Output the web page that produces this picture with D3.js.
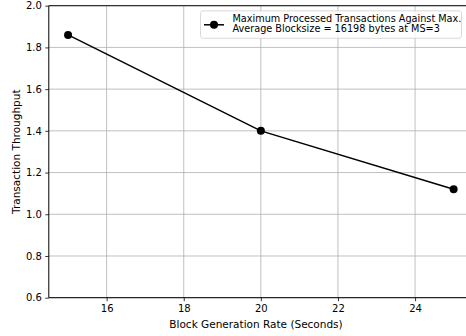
<!DOCTYPE html>
<html>
<head>
<meta charset="utf-8">
<script src="https://cdn.jsdelivr.net/npm/d3@7"></script>
<style>
  html, body { margin: 0; padding: 0; background: #fff; }
  svg { display: block; font-family: "DejaVu Sans", sans-serif; }
</style>
</head>
<body>
<svg id="chart" width="466" height="336"></svg>
<script>
// Block generation rate (seconds) vs. transaction throughput
const blockRates = [15, 20, 25];
const throughput = [1.86, 1.40, 1.12];
const xTicks = [16, 18, 20, 22, 24];
const yTicks = [0.6, 0.8, 1.0, 1.2, 1.4, 1.6, 1.8, 2.0];
const legendLines = ["Maximum Processed Transactions Against Max.", "Average Blocksize = 16198 bytes at MS=3"];

(function () {
const svg = d3.select("#chart");
const plotL = 48.8, plotT = 5.7, plotB = 297.7, plotR = 472.9;

const x = d3.scaleLinear().domain([14.5, 25.5]).range([plotL, plotR]);
const y = d3.scaleLinear().domain([0.6, 2.0]).range([plotB, plotT]);

// grid
const grid = svg.append("g");
grid.selectAll("line.vx").data(xTicks).join("line")
  .attr("x1", d => x(d)).attr("x2", d => x(d))
  .attr("y1", plotT).attr("y2", plotB)
  .attr("stroke", "#b0b0b0").attr("stroke-width", 0.8);
grid.selectAll("line.hy").data(yTicks).join("line")
  .attr("x1", plotL).attr("x2", plotR)
  .attr("y1", d => y(d)).attr("y2", d => y(d))
  .attr("stroke", "#b0b0b0").attr("stroke-width", 0.8);

// axes
const xAxis = d3.axisBottom(x).tickValues(xTicks).tickSize(3.5).tickPadding(3.5).tickFormat(d3.format("d"));
const yAxis = d3.axisLeft(y).tickValues(yTicks).tickSize(3.5).tickPadding(3.5).tickFormat(d3.format(".1f"));

const gx = svg.append("g").attr("transform", `translate(0,${plotB})`).call(xAxis);
const gy = svg.append("g").attr("transform", `translate(${plotL},0)`).call(yAxis);
[gx, gy].forEach(g => {
  g.select(".domain").remove();
  g.selectAll(".tick line").attr("stroke", "#000").attr("stroke-width", 0.8);
  g.selectAll(".tick text").attr("fill", "#000").attr("font-size", 10)
    .attr("font-family", "DejaVu Sans, sans-serif");
});

// spines
svg.append("line").attr("x1", plotL).attr("x2", plotR).attr("y1", plotT).attr("y2", plotT)
  .attr("stroke", "#333").attr("stroke-width", 1.2);
svg.append("line").attr("x1", plotL).attr("x2", plotR).attr("y1", plotB).attr("y2", plotB)
  .attr("stroke", "#000").attr("stroke-width", 1);
svg.append("line").attr("x1", plotL).attr("x2", plotL).attr("y1", plotT).attr("y2", plotB)
  .attr("stroke", "#000").attr("stroke-width", 1);

// series
const pts = blockRates.map((r, i) => [r, throughput[i]]);
svg.append("path").datum(pts)
  .attr("fill", "none").attr("stroke", "#000").attr("stroke-width", 1.5)
  .attr("d", d3.line().x(d => x(d[0])).y(d => y(d[1])));
svg.selectAll("circle.pt").data(pts).join("circle")
  .attr("cx", d => x(d[0])).attr("cy", d => y(d[1])).attr("r", 4).attr("fill", "#000");

// axis labels
svg.append("text").attr("x", 256).attr("y", 327.5)
  .attr("text-anchor", "middle").attr("font-size", 10.5).text("Block Generation Rate (Seconds)");
svg.append("text").attr("transform", `translate(20,${(plotT + plotB) / 2}) rotate(-90)`)
  .attr("text-anchor", "middle").attr("font-size", 10.5).text("Transaction Throughput");

// legend
const lg = svg.append("g");
lg.append("rect").attr("x", 200.5).attr("y", 10.8).attr("width", 261).attr("height", 27.5)
  .attr("rx", 2.5).attr("fill", "#fff").attr("fill-opacity", 0.8)
  .attr("stroke", "#d0d0d0").attr("stroke-width", 0.8);
lg.append("line").attr("x1", 204).attr("x2", 224).attr("y1", 24.8).attr("y2", 24.8)
  .attr("stroke", "#000").attr("stroke-width", 1.5);
lg.append("circle").attr("cx", 214).attr("cy", 24.8).attr("r", 4).attr("fill", "#000");
lg.selectAll("text").data(legendLines).join("text")
  .attr("x", 232.5).attr("y", (d, i) => 21.5 + i * 10.5)
  .attr("font-size", 9.7).text(d => d);
})();
</script>
</body>
</html>
